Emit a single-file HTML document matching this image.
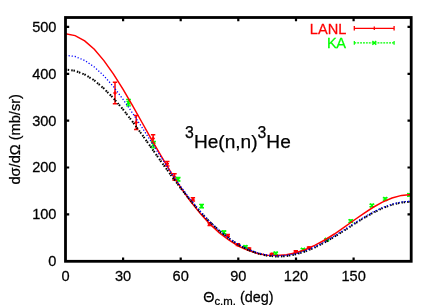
<!DOCTYPE html>
<html><head><meta charset="utf-8"><title>plot</title>
<style>html,body{margin:0;padding:0;background:#fff}svg{display:block;will-change:transform}text{font-family:"Liberation Sans",sans-serif;fill:#000;stroke:#000;stroke-width:0.25px}</style></head>
<body>
<svg width="436" height="305" viewBox="0 0 436 305">
<rect width="436" height="305" fill="#fff"/>
<path d="M115.0,82.2V103.8M112.8,82.2h4.4M112.8,103.8h4.4" stroke="#ff0000" stroke-width="1.5" fill="none"/>
<path d="M113.3,93.0h3.4M115.0,91.3v3.4" stroke="#ff0000" stroke-width="1.4" fill="none"/>
<path d="M136.2,115.4V129.6M134.0,115.4h4.4M134.0,129.6h4.4" stroke="#ff0000" stroke-width="1.5" fill="none"/>
<path d="M134.5,122.5h3.4M136.2,120.8v3.4" stroke="#ff0000" stroke-width="1.4" fill="none"/>
<path d="M153.1,134.8V142.2M150.9,134.8h4.4M150.9,142.2h4.4" stroke="#ff0000" stroke-width="1.5" fill="none"/>
<path d="M151.4,138.5h3.4M153.1,136.8v3.4" stroke="#ff0000" stroke-width="1.4" fill="none"/>
<path d="M167.3,161.6V166.0M165.1,161.6h4.4M165.1,166.0h4.4" stroke="#ff0000" stroke-width="1.5" fill="none"/>
<path d="M165.6,163.8h3.4M167.3,162.1v3.4" stroke="#ff0000" stroke-width="1.4" fill="none"/>
<path d="M174.5,173.7V180.1M172.3,173.7h4.4M172.3,180.1h4.4" stroke="#ff0000" stroke-width="1.5" fill="none"/>
<path d="M172.8,176.9h3.4M174.5,175.2v3.4" stroke="#ff0000" stroke-width="1.4" fill="none"/>
<path d="M192.9,197.8V201.0M190.7,197.8h4.4M190.7,201.0h4.4" stroke="#ff0000" stroke-width="1.5" fill="none"/>
<path d="M191.2,199.4h3.4M192.9,197.7v3.4" stroke="#ff0000" stroke-width="1.4" fill="none"/>
<path d="M209.7,222.9V225.5M207.5,222.9h4.4M207.5,225.5h4.4" stroke="#ff0000" stroke-width="1.5" fill="none"/>
<path d="M208.0,224.2h3.4M209.7,222.5v3.4" stroke="#ff0000" stroke-width="1.4" fill="none"/>
<path d="M227.8,234.6V236.8M225.6,234.6h4.4M225.6,236.8h4.4" stroke="#ff0000" stroke-width="1.5" fill="none"/>
<path d="M226.1,235.7h3.4M227.8,234.0v3.4" stroke="#ff0000" stroke-width="1.4" fill="none"/>
<path d="M237.9,243.7V245.5M235.7,243.7h4.4M235.7,245.5h4.4" stroke="#ff0000" stroke-width="1.5" fill="none"/>
<path d="M236.2,244.6h3.4M237.9,242.9v3.4" stroke="#ff0000" stroke-width="1.4" fill="none"/>
<path d="M249.1,247.9V249.7M246.9,247.9h4.4M246.9,249.7h4.4" stroke="#ff0000" stroke-width="1.5" fill="none"/>
<path d="M247.4,248.8h3.4M249.1,247.1v3.4" stroke="#ff0000" stroke-width="1.4" fill="none"/>
<path d="M271.9,253.4V255.0M269.7,253.4h4.4M269.7,255.0h4.4" stroke="#ff0000" stroke-width="1.5" fill="none"/>
<path d="M270.2,254.2h3.4M271.9,252.5v3.4" stroke="#ff0000" stroke-width="1.4" fill="none"/>
<path d="M295.8,250.8V252.4M293.6,250.8h4.4M293.6,252.4h4.4" stroke="#ff0000" stroke-width="1.5" fill="none"/>
<path d="M294.1,251.6h3.4M295.8,249.9v3.4" stroke="#ff0000" stroke-width="1.4" fill="none"/>
<path d="M309.0,246.9V248.5M306.8,246.9h4.4M306.8,248.5h4.4" stroke="#ff0000" stroke-width="1.5" fill="none"/>
<path d="M307.3,247.7h3.4M309.0,246.0v3.4" stroke="#ff0000" stroke-width="1.4" fill="none"/>
<path d="M326.5,239.0V240.6M324.3,239.0h4.4M324.3,240.6h4.4" stroke="#ff0000" stroke-width="1.5" fill="none"/>
<path d="M324.8,239.8h3.4M326.5,238.1v3.4" stroke="#ff0000" stroke-width="1.4" fill="none"/>
<path d="M128.5,99.4V105.8M126.1,99.4h4.8M126.1,105.8h4.8" stroke="#00ff00" stroke-width="1.3" fill="none"/>
<path d="M126.6,100.7l3.8,3.8M126.6,104.5l3.8,-3.8" stroke="#00ff00" stroke-width="1.4" fill="none"/>
<path d="M153.5,141.3V147.9M151.1,141.3h4.8M151.1,147.9h4.8" stroke="#00ff00" stroke-width="1.3" fill="none"/>
<path d="M151.6,142.7l3.8,3.8M151.6,146.5l3.8,-3.8" stroke="#00ff00" stroke-width="1.4" fill="none"/>
<path d="M178.1,177.5V181.1M175.7,177.5h4.8M175.7,181.1h4.8" stroke="#00ff00" stroke-width="1.3" fill="none"/>
<path d="M176.2,177.4l3.8,3.8M176.2,181.2l3.8,-3.8" stroke="#00ff00" stroke-width="1.4" fill="none"/>
<path d="M201.6,204.4V207.8M199.2,204.4h4.8M199.2,207.8h4.8" stroke="#00ff00" stroke-width="1.3" fill="none"/>
<path d="M199.7,204.2l3.8,3.8M199.7,208.0l3.8,-3.8" stroke="#00ff00" stroke-width="1.4" fill="none"/>
<path d="M223.9,231.0V233.6M221.5,231.0h4.8M221.5,233.6h4.8" stroke="#00ff00" stroke-width="1.3" fill="none"/>
<path d="M222.0,230.4l3.8,3.8M222.0,234.2l3.8,-3.8" stroke="#00ff00" stroke-width="1.4" fill="none"/>
<path d="M245.4,245.9V248.1M243.0,245.9h4.8M243.0,248.1h4.8" stroke="#00ff00" stroke-width="1.3" fill="none"/>
<path d="M243.5,245.1l3.8,3.8M243.5,248.9l3.8,-3.8" stroke="#00ff00" stroke-width="1.4" fill="none"/>
<path d="M275.7,252.4V254.4M273.3,252.4h4.8M273.3,254.4h4.8" stroke="#00ff00" stroke-width="1.3" fill="none"/>
<path d="M273.8,251.5l3.8,3.8M273.8,255.3l3.8,-3.8" stroke="#00ff00" stroke-width="1.4" fill="none"/>
<path d="M303.0,248.6V250.6M300.6,248.6h4.8M300.6,250.6h4.8" stroke="#00ff00" stroke-width="1.3" fill="none"/>
<path d="M301.1,247.7l3.8,3.8M301.1,251.5l3.8,-3.8" stroke="#00ff00" stroke-width="1.4" fill="none"/>
<path d="M326.9,238.6V240.6M324.5,238.6h4.8M324.5,240.6h4.8" stroke="#00ff00" stroke-width="1.3" fill="none"/>
<path d="M325.0,237.7l3.8,3.8M325.0,241.5l3.8,-3.8" stroke="#00ff00" stroke-width="1.4" fill="none"/>
<path d="M350.8,219.9V222.3M348.4,219.9h4.8M348.4,222.3h4.8" stroke="#00ff00" stroke-width="1.3" fill="none"/>
<path d="M348.9,219.2l3.8,3.8M348.9,223.0l3.8,-3.8" stroke="#00ff00" stroke-width="1.4" fill="none"/>
<path d="M371.9,204.3V206.7M369.5,204.3h4.8M369.5,206.7h4.8" stroke="#00ff00" stroke-width="1.3" fill="none"/>
<path d="M370.0,203.6l3.8,3.8M370.0,207.4l3.8,-3.8" stroke="#00ff00" stroke-width="1.4" fill="none"/>
<path d="M385.2,197.8V200.2M382.8,197.8h4.8M382.8,200.2h4.8" stroke="#00ff00" stroke-width="1.3" fill="none"/>
<path d="M383.3,197.1l3.8,3.8M383.3,200.9l3.8,-3.8" stroke="#00ff00" stroke-width="1.4" fill="none"/>
<path d="M409.4,193.6V196.0M407.0,193.6h4.8M407.0,196.0h4.8" stroke="#00ff00" stroke-width="1.3" fill="none"/>
<path d="M407.5,192.9l3.8,3.8M407.5,196.7l3.8,-3.8" stroke="#00ff00" stroke-width="1.4" fill="none"/>
<polyline points="65.5,33.8 75.1,35.6 84.7,40.9 94.3,49.3 103.9,60.6 113.5,74.1 123.1,89.4 132.7,105.9 142.3,123.0 151.9,140.1 161.5,156.7 171.1,172.7 180.7,187.5 190.3,201.0 199.9,213.1 209.5,223.6 219.1,232.6 228.7,240.0 238.3,246.0 248.0,250.4 257.6,253.5 267.2,255.2 276.8,255.6 286.4,254.8 296.0,252.7 305.6,249.5 315.2,245.2 324.8,240.0 334.4,234.0 344.0,227.4 353.6,220.5 363.2,213.8 372.8,207.5 382.4,202.1 392.0,198.0 401.6,195.4 411.2,194.5" fill="none" stroke="#ff0000" stroke-width="1.5"/>
<polyline points="65.5,69.5 75.1,70.8 84.7,74.5 94.3,80.4 103.9,88.5 113.5,98.3 123.1,109.5 132.7,121.9 142.3,135.0 151.9,148.5 161.5,162.1 171.1,175.4 180.7,188.2 190.3,200.3 199.9,211.5 209.5,221.7 219.1,230.6 228.7,238.4 238.3,244.8 248.0,249.8 257.6,253.4 267.2,255.7 276.8,256.6 286.4,256.1 296.0,254.3 305.6,251.3 315.2,247.3 324.8,242.3 334.4,236.7 344.0,230.6 353.6,224.4 363.2,218.4 372.8,212.9 382.4,208.2 392.0,204.7 401.6,202.5 411.2,201.7" fill="none" stroke="#000" stroke-width="2.0" stroke-dasharray="1.5 0.7 1.5 2.1"/>
<polyline points="65.5,55.2 75.1,56.5 84.7,60.5 94.3,67.0 103.9,75.8 113.5,86.7 123.1,99.4 132.7,113.3 142.3,127.9 151.9,142.9 161.5,157.9 171.1,172.5 180.7,186.4 190.3,199.3 199.9,211.0 209.5,221.4 219.1,230.4 228.7,238.1 238.3,244.3 248.0,249.2 257.6,252.8 267.2,255.0 276.8,255.9 286.4,255.4 296.0,253.7 305.6,250.8 315.2,246.7 324.8,241.8 334.4,236.1 344.0,230.0 353.6,223.7 363.2,217.7 372.8,212.2 382.4,207.6 392.0,204.1 401.6,201.9 411.2,201.2" fill="none" stroke="#0000ff" stroke-width="1.3" stroke-dasharray="1.2 1.9"/>
<rect x="65.5" y="17.5" width="345.7" height="243.8" fill="none" stroke="#000" stroke-width="2.8"/>
<path d="M123.1,261.3v-3.7M123.1,17.5v3.7M180.7,261.3v-3.7M180.7,17.5v3.7M238.3,261.3v-3.7M238.3,17.5v3.7M296.0,261.3v-3.7M296.0,17.5v3.7M353.6,261.3v-3.7M353.6,17.5v3.7M65.5,214.4h3.7M411.2,214.4h-3.7M65.5,167.5h3.7M411.2,167.5h-3.7M65.5,120.6h3.7M411.2,120.6h-3.7M65.5,73.8h3.7M411.2,73.8h-3.7M65.5,26.9h3.7M411.2,26.9h-3.7" stroke="#000" stroke-width="2.2" fill="none"/>
<g transform="translate(0,266.3) scale(1,1.035) translate(0,-266.3)"><text x="56.5" y="266.3" font-size="14.6" text-anchor="end">0</text></g>
<g transform="translate(0,219.4) scale(1,1.035) translate(0,-219.4)"><text x="56.5" y="219.4" font-size="14.6" text-anchor="end">100</text></g>
<g transform="translate(0,172.5) scale(1,1.035) translate(0,-172.5)"><text x="56.5" y="172.5" font-size="14.6" text-anchor="end">200</text></g>
<g transform="translate(0,125.6) scale(1,1.035) translate(0,-125.6)"><text x="56.5" y="125.6" font-size="14.6" text-anchor="end">300</text></g>
<g transform="translate(0,78.8) scale(1,1.035) translate(0,-78.8)"><text x="56.5" y="78.8" font-size="14.6" text-anchor="end">400</text></g>
<g transform="translate(0,31.9) scale(1,1.035) translate(0,-31.9)"><text x="56.5" y="31.9" font-size="14.6" text-anchor="end">500</text></g>
<g transform="translate(0,281.3) scale(1,1.035) translate(0,-281.3)"><text x="65.5" y="281.3" font-size="14.6" text-anchor="middle">0</text></g>
<g transform="translate(0,281.3) scale(1,1.035) translate(0,-281.3)"><text x="123.1" y="281.3" font-size="14.6" text-anchor="middle">30</text></g>
<g transform="translate(0,281.3) scale(1,1.035) translate(0,-281.3)"><text x="180.7" y="281.3" font-size="14.6" text-anchor="middle">60</text></g>
<g transform="translate(0,281.3) scale(1,1.035) translate(0,-281.3)"><text x="238.3" y="281.3" font-size="14.6" text-anchor="middle">90</text></g>
<g transform="translate(0,281.3) scale(1,1.035) translate(0,-281.3)"><text x="296.0" y="281.3" font-size="14.6" text-anchor="middle">120</text></g>
<g transform="translate(0,281.3) scale(1,1.035) translate(0,-281.3)"><text x="353.6" y="281.3" font-size="14.6" text-anchor="middle">150</text></g>
<text transform="translate(19.6,139.3) rotate(-90) scale(1,0.96)" font-size="14.6" text-anchor="middle">dσ/dΩ (mb/sr)</text>
<g transform="translate(0,301.8) scale(1,1.035) translate(0,-301.8)"><text x="203.2" y="301.8" font-size="14.4">Θ<tspan font-size="11.4" dy="2.7">c.m.</tspan><tspan dy="-2.7"> (deg)</tspan></text></g>
<text x="185.1" y="147.7" font-size="19.1"><tspan font-size="15.8" dy="-9.6">3</tspan><tspan dy="9.6">He(n,n)</tspan><tspan font-size="15.8" dy="-9.6">3</tspan><tspan dy="9.6">He</tspan></text>
<g transform="translate(0,34.0) scale(1,1.035) translate(0,-34.0)"><text x="346.3" y="34.0" font-size="14.6" text-anchor="end" style="fill:#ff0000;stroke:#ff0000">LANL</text></g>
<g transform="translate(0,48.5) scale(1,1.035) translate(0,-48.5)"><text x="345.3" y="48.5" font-size="14.6" letter-spacing="-0.6" text-anchor="end" style="fill:#00ff00;stroke:#00ff00">KA</text></g>
<path d="M354.3,28.3H394.1M354.3,26v4.6M394.1,26v4.6M374.3,26.6v3.4" stroke="#ff0000" stroke-width="1.3" fill="none"/>
<path d="M354.3,42.9H394.1" stroke="#00ff00" stroke-width="1.3" stroke-dasharray="1.9 1.0" fill="none"/>
<path d="M354.3,41v3.8M394.1,41v3.8" stroke="#00ff00" stroke-width="1.2" fill="none"/>
<path d="M372.4,41.0l3.8,3.8M372.4,44.8l3.8,-3.8" stroke="#00ff00" stroke-width="1.4" fill="none"/>
</svg>
</body></html>
